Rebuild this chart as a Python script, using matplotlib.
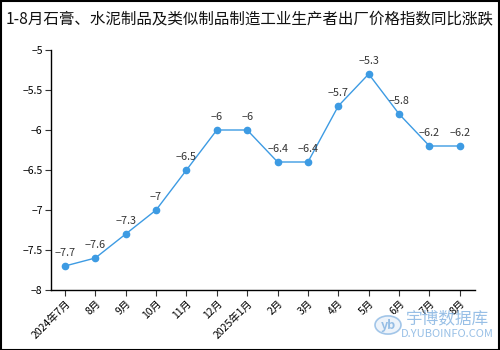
import matplotlib
matplotlib.use("Agg")
import matplotlib.pyplot as plt
from matplotlib.patches import Rectangle, Circle

plt.rcParams['font.family'] = ['Noto Sans CJK SC', 'DejaVu Sans']
plt.rcParams['axes.unicode_minus'] = True

title = "1-8月石膏、水泥制品及类似制品制造工业生产者出厂价格指数同比涨跌"
months = ["2024年7月", "8月", "9月", "10月", "11月", "12月", "2025年1月",
          "2月", "3月", "4月", "5月", "6月", "7月", "8月"]
values = [-7.7, -7.6, -7.3, -7.0, -6.5, -6.0, -6.0,
          -6.4, -6.4, -5.7, -5.3, -5.8, -6.2, -6.2]
yticks = [-8, -7.5, -7, -6.5, -6, -5.5, -5]

line_color = "#3d9be3"

fig = plt.figure(figsize=(5, 3.5), dpi=100)
ax = fig.add_axes([51 / 500, 60 / 350, 424 / 500, 240 / 350])

x = list(range(len(months)))
ax.plot(x, values, color=line_color, lw=1.0, marker="o", ms=4.5,
        markerfacecolor=line_color, markeredgecolor=line_color, zorder=3)

for xi, v in zip(x, values):
    label = f"{v:g}".replace("-", "\u2212")
    ax.annotate(label, (xi, v), xytext=(0, 6), textcoords="offset points",
                ha="center", va="bottom", fontsize=7.8, color="#333333")

ax.set_xlim(-0.46, 13.5)
ax.set_ylim(-8, -5)
ax.set_yticks(yticks)
ax.set_yticklabels([f"{t:g}".replace("-", "\u2212") for t in yticks], fontsize=7.5)
ax.set_xticks(x)
ax.set_xticklabels(months, rotation=45, ha="right", rotation_mode="anchor",
                   fontsize=7.5)
ax.tick_params(axis="both", length=4, width=0.8, color="#333333", pad=2)

for side in ("top", "right"):
    ax.spines[side].set_visible(False)
for side in ("left", "bottom"):
    ax.spines[side].set_color("black")
    ax.spines[side].set_linewidth(1.0)

fig.text(0.5, 1 - 20 / 350, title, ha="center", va="center", fontsize=11.2,
         color="#111111")

# watermark
wm = "#7fb0e0"
fig.patches.append(Circle((388 / 500, 1 - 325 / 350), 13 / 500, transform=fig.transFigure,
                          facecolor="#e6eff9", edgecolor=wm, lw=1.2, alpha=0.7,
                          zorder=0))
fig.text(388 / 500, 1 - 325 / 350, "yb", ha="center", va="center", fontsize=9,
         color=wm, style="italic", weight="bold", alpha=0.8, zorder=0)
fig.text(447 / 500, 1 - 319 / 350, "宇博数据库", ha="center", va="center",
         fontsize=12, color=wm, alpha=0.8, zorder=0)
fig.text(447 / 500, 1 - 334 / 350, "D.YUBOINFO.COM", ha="center", va="center",
         fontsize=8, color=wm, alpha=0.8, zorder=0)

# figure border
fig.patches.append(Rectangle((0.001, 0.001), 0.997, 0.996, transform=fig.transFigure,
                             fill=False, edgecolor="black", lw=1.5))

fig.savefig("out.png", dpi=100)
